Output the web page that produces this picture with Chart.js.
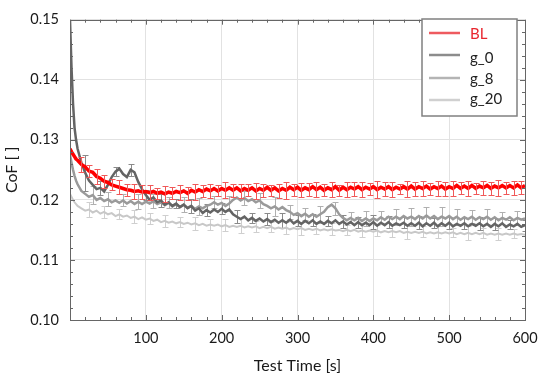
<!DOCTYPE html>
<html>
<head>
<meta charset="utf-8">
<script src="https://cdn.jsdelivr.net/npm/chart.js@4.4.0/dist/chart.umd.min.js"></script>
<style>
  html, body { margin: 0; padding: 0; background: #fff; }
  #wrap { width: 550px; height: 382px; }
</style>
</head>
<body>
<div id="wrap"><canvas id="cofChart"></canvas></div>
<script>
// test time [s]
var time = [0,2,4,6,8,10,15,20,25,30,
  35,40,45,50,55,60,65,70,75,80,
  85,90,95,100,105,110,115,120,125,130,
  135,140,145,150,155,160,165,170,175,180,
  185,190,195,200,205,210,215,220,225,230,
  235,240,245,250,255,260,265,270,275,280,
  285,290,295,300,305,310,315,320,325,330,
  335,340,345,350,355,360,365,370,375,380,
  385,390,395,400,405,410,415,420,425,430,
  435,440,445,450,455,460,465,470,475,480,
  485,490,495,500,505,510,515,520,525,530,
  535,540,545,550,555,560,565,570,575,580,
  585,590,595,600];

// CoF per sample
var cofBL = [0.1285,0.1280,0.1276,0.1272,0.1268,0.1266,0.1259,0.1255,0.1248,0.1246,
  0.1239,0.1236,0.1231,0.1229,0.1225,0.1223,0.1221,0.1219,0.1217,0.1216,
  0.1214,0.1215,0.1213,0.1214,0.1212,0.1214,0.1211,0.1213,0.1210,0.1213,
  0.1211,0.1214,0.1212,0.1215,0.1211,0.1216,0.1213,0.1217,0.1214,0.1218,
  0.1215,0.1219,0.1215,0.1219,0.1216,0.1220,0.1216,0.1220,0.1215,0.1219,
  0.1216,0.1220,0.1215,0.1219,0.1216,0.1221,0.1216,0.1220,0.1215,0.1219,
  0.1216,0.1221,0.1217,0.1221,0.1216,0.1220,0.1217,0.1222,0.1217,0.1221,
  0.1216,0.1220,0.1217,0.1222,0.1216,0.1221,0.1217,0.1221,0.1218,0.1222,
  0.1217,0.1221,0.1218,0.1222,0.1217,0.1221,0.1218,0.1222,0.1217,0.1221,
  0.1218,0.1222,0.1218,0.1223,0.1218,0.1222,0.1219,0.1223,0.1218,0.1222,
  0.1219,0.1223,0.1218,0.1222,0.1219,0.1224,0.1219,0.1223,0.1219,0.1224,
  0.1219,0.1223,0.1220,0.1224,0.1219,0.1223,0.1220,0.1224,0.1220,0.1224,
  0.1220,0.1225,0.1220,0.1224];

var cofG0 = [0.1500,0.1420,0.1360,0.1320,0.1300,0.1285,0.1262,0.1245,0.1232,0.1225,
  0.1218,0.1220,0.1214,0.1225,0.1238,0.1247,0.1252,0.1243,0.1238,0.1250,
  0.1246,0.1230,0.1218,0.1208,0.1200,0.1204,0.1196,0.1199,0.1192,0.1196,
  0.1190,0.1194,0.1188,0.1192,0.1186,0.1190,0.1182,0.1186,0.1178,0.1183,
  0.1179,0.1184,0.1180,0.1185,0.1180,0.1184,0.1176,0.1172,0.1168,0.1172,
  0.1166,0.1170,0.1165,0.1169,0.1164,0.1168,0.1163,0.1167,0.1162,0.1166,
  0.1162,0.1167,0.1161,0.1165,0.1160,0.1165,0.1161,0.1166,0.1160,0.1164,
  0.1160,0.1165,0.1161,0.1166,0.1160,0.1164,0.1159,0.1163,0.1158,0.1163,
  0.1158,0.1162,0.1158,0.1163,0.1157,0.1162,0.1158,0.1163,0.1157,0.1161,
  0.1158,0.1162,0.1157,0.1161,0.1157,0.1162,0.1156,0.1161,0.1157,0.1162,
  0.1156,0.1161,0.1157,0.1162,0.1156,0.1160,0.1157,0.1161,0.1156,0.1160,
  0.1157,0.1161,0.1156,0.1160,0.1155,0.1160,0.1156,0.1161,0.1155,0.1159,
  0.1156,0.1160,0.1155,0.1158];

var cofG8 = [0.1275,0.1262,0.1250,0.1240,0.1232,0.1226,0.1215,0.1210,0.1205,0.1208,
  0.1200,0.1203,0.1198,0.1201,0.1196,0.1199,0.1195,0.1199,0.1194,0.1198,
  0.1193,0.1197,0.1193,0.1197,0.1194,0.1198,0.1193,0.1196,0.1191,0.1195,
  0.1189,0.1193,0.1188,0.1192,0.1187,0.1190,0.1185,0.1189,0.1186,0.1190,
  0.1192,0.1196,0.1192,0.1195,0.1190,0.1194,0.1200,0.1204,0.1199,0.1203,
  0.1198,0.1201,0.1196,0.1199,0.1193,0.1190,0.1186,0.1189,0.1184,0.1188,
  0.1183,0.1180,0.1175,0.1178,0.1173,0.1177,0.1172,0.1176,0.1172,0.1176,
  0.1180,0.1188,0.1192,0.1186,0.1176,0.1170,0.1166,0.1170,0.1166,0.1170,
  0.1165,0.1169,0.1165,0.1169,0.1166,0.1171,0.1167,0.1172,0.1168,0.1172,
  0.1168,0.1173,0.1169,0.1172,0.1168,0.1173,0.1169,0.1174,0.1169,0.1173,
  0.1168,0.1172,0.1169,0.1173,0.1168,0.1172,0.1167,0.1171,0.1168,0.1172,
  0.1167,0.1171,0.1168,0.1172,0.1167,0.1171,0.1166,0.1170,0.1167,0.1171,
  0.1166,0.1170,0.1167,0.1169];

var cofG20 = [0.1210,0.1205,0.1200,0.1196,0.1193,0.1190,0.1186,0.1182,0.1184,0.1179,
  0.1182,0.1177,0.1180,0.1176,0.1178,0.1173,0.1176,0.1172,0.1174,0.1170,
  0.1172,0.1168,0.1171,0.1167,0.1169,0.1165,0.1167,0.1163,0.1165,0.1162,
  0.1164,0.1161,0.1163,0.1160,0.1162,0.1159,0.1161,0.1158,0.1160,0.1157,
  0.1159,0.1157,0.1159,0.1156,0.1158,0.1155,0.1157,0.1155,0.1157,0.1154,
  0.1156,0.1154,0.1156,0.1153,0.1155,0.1153,0.1155,0.1152,0.1154,0.1152,
  0.1154,0.1151,0.1153,0.1151,0.1153,0.1150,0.1152,0.1150,0.1152,0.1149,
  0.1151,0.1149,0.1151,0.1149,0.1150,0.1148,0.1150,0.1148,0.1150,0.1147,
  0.1149,0.1147,0.1149,0.1147,0.1149,0.1146,0.1148,0.1146,0.1148,0.1146,
  0.1148,0.1145,0.1147,0.1145,0.1147,0.1145,0.1147,0.1144,0.1146,0.1144,
  0.1146,0.1144,0.1146,0.1144,0.1146,0.1143,0.1145,0.1143,0.1145,0.1143,
  0.1145,0.1143,0.1145,0.1142,0.1144,0.1142,0.1144,0.1142,0.1144,0.1142,
  0.1144,0.1142,0.1143,0.1142];

// error bar half widths (every 10 s for BL from 15 s, every 20 s for the others)
var errBL = [0.0012,0.0010,0.0013,0.0011,0.0009,0.0012,0.0010,0.0013,0.0011,0.0012,
  0.0009,0.0013,0.0010,0.0012,0.0011,0.0014,0.0010,0.0012,0.0009,0.0013,
  0.0011,0.0012,0.0010,0.0013,0.0011,0.0009,0.0012,0.0014,0.0010,0.0012,
  0.0011,0.0013,0.0010,0.0012,0.0009,0.0013,0.0011,0.0012,0.0010,0.0014,
  0.0011,0.0012,0.0009,0.0013,0.0011,0.0012,0.0010,0.0013,0.0011,0.0012,
  0.0010,0.0013,0.0009,0.0012,0.0011,0.0013,0.0010,0.0012,0.0011];
var errG0 = [0.0030,0.0012,0.0008,0.0010,0.0009,0.0011,0.0008,0.0012,0.0010,0.0009,
  0.0011,0.0008,0.0010,0.0012,0.0009,0.0010,0.0008,0.0011,0.0009,0.0012,
  0.0010,0.0009,0.0011,0.0008,0.0010,0.0009,0.0011,0.0010,0.0008,0.0009];
var errG8 = [0.0015,0.0012,0.0010,0.0013,0.0011,0.0009,0.0012,0.0014,0.0010,0.0012,
  0.0011,0.0013,0.0016,0.0012,0.0010,0.0014,0.0011,0.0009,0.0012,0.0010,
  0.0013,0.0015,0.0014,0.0016,0.0013,0.0011,0.0012,0.0010,0.0011];
var errG20 = [0.0012,0.0010,0.0008,0.0011,0.0009,0.0010,0.0008,0.0011,0.0009,0.0010,
  0.0012,0.0009,0.0008,0.0010,0.0011,0.0009,0.0010,0.0008,0.0011,0.0009,
  0.0010,0.0012,0.0009,0.0010,0.0008,0.0011,0.0009,0.0010,0.0008];

var seriesNames = ["BL", "g_0", "g_8", "g_20"];

function pts(vals) {
  return time.map(function (t, i) { return { x: t, y: vals[i] }; });
}

var FONT = "Lato, 'Open Sans', sans-serif";

// error bars: grey ones under the lines, red ones on top
function drawErr(chart, onTop) {
  var ctx = chart.ctx, xs = chart.scales.x, ys = chart.scales.y, a = chart.chartArea;
  ctx.save();
  ctx.beginPath();
  ctx.rect(a.left, a.top, a.right - a.left, a.bottom - a.top);
  ctx.clip();
  for (var d = chart.data.datasets.length - 1; d >= 0; d--) {
    var ds = chart.data.datasets[d];
    if (!ds.err || !!ds.errOnTop !== onTop) continue;
    ctx.strokeStyle = ds.errColor;
    ctx.lineWidth = 1;
    ds.err.forEach(function (e, k) {
      var p = ds.data[ds.errStart + k * ds.errStep];
      if (!p) return;
      var px = Math.round(xs.getPixelForValue(p.x)) + 0.5;
      var top = Math.round(ys.getPixelForValue(p.y + e)) + 0.5;
      var bot = Math.round(ys.getPixelForValue(p.y - e)) + 0.5;
      ctx.beginPath();
      ctx.moveTo(px, top); ctx.lineTo(px, bot);
      ctx.moveTo(px - 3, top); ctx.lineTo(px + 3, top);
      ctx.moveTo(px - 3, bot); ctx.lineTo(px + 3, bot);
      ctx.stroke();
    });
  }
  ctx.restore();
}

var errBars = {
  id: 'errBars',
  beforeDatasetsDraw: function (chart) { drawErr(chart, false); },
  afterDatasetsDraw: function (chart) { drawErr(chart, true); }
};

// box round the plot with inward major/minor ticks on all sides
var frame = {
  id: 'frame',
  afterDatasetsDraw: function (chart) {
    var ctx = chart.ctx, xs = chart.scales.x, ys = chart.scales.y, a = chart.chartArea;
    ctx.save();
    ctx.strokeStyle = '#666';
    ctx.lineWidth = 1;
    ctx.strokeRect(Math.round(a.left) + 0.5, Math.round(a.top) + 0.5,
      Math.round(a.right - a.left), Math.round(a.bottom - a.top));
    ctx.beginPath();
    for (var t = 0; t <= 600; t += 20) {
      var px = Math.round(xs.getPixelForValue(t)) + 0.5;
      var len = (t % 100 === 0) ? 5 : 3;
      ctx.moveTo(px, a.bottom); ctx.lineTo(px, a.bottom - len);
      ctx.moveTo(px, a.top); ctx.lineTo(px, a.top + len);
    }
    for (var k = 0; k <= 25; k++) {
      var py = Math.round(ys.getPixelForValue(0.10 + k * 0.002)) + 0.5;
      var l2 = (k % 5 === 0) ? 5 : 3;
      ctx.moveTo(a.left, py); ctx.lineTo(a.left + l2, py);
      ctx.moveTo(a.right, py); ctx.lineTo(a.right - l2, py);
    }
    ctx.stroke();
    ctx.restore();
  }
};

// legend box in the upper right corner
var legendBox = {
  id: 'legendBox',
  afterDraw: function (chart) {
    var ctx = chart.ctx;
    var rows = [
      { line: 33, text: 39, color: '#e8262e' },
      { line: 55, text: 63, color: '#222' },
      { line: 78, text: 84, color: '#222' },
      { line: 100, text: 104, color: '#222' }
    ];
    ctx.save();
    ctx.fillStyle = '#fff';
    ctx.fillRect(422, 19, 95, 97);
    ctx.strokeStyle = '#808080';
    ctx.lineWidth = 1.5;
    ctx.strokeRect(422, 19, 95, 97);
    ctx.font = '15px ' + FONT;
    ctx.textBaseline = 'alphabetic';
    chart.data.datasets.forEach(function (ds, i) {
      var r = rows[i];
      ctx.strokeStyle = ds.legendColor;
      ctx.lineWidth = 2.5;
      ctx.beginPath();
      ctx.moveTo(429, r.line); ctx.lineTo(460, r.line);
      ctx.stroke();
      ctx.fillStyle = r.color;
      ctx.fillText(ds.label, 470, r.text);
    });
    ctx.restore();
  }
};

var ctxC = document.getElementById('cofChart').getContext('2d');
var cofChart = new Chart(ctxC, {
  type: 'line',
  data: {
    datasets: [{
        label: seriesNames[0],
        data: pts(cofBL),
        borderColor: '#ff0000',
        legendColor: '#ee5a5f',
        borderWidth: 3.5,
        err: errBL, errStart: 6, errStep: 2, errColor: '#f05858', errOnTop: true
      },
      {
        label: seriesNames[1],
        data: pts(cofG0),
        borderColor: '#646464',
        legendColor: '#8c8c8c',
        borderWidth: 2.5,
        err: errG0, errStart: 7, errStep: 4, errColor: '#8a8a8a'
      },
      {
        label: seriesNames[2],
        data: pts(cofG8),
        borderColor: '#9a9a9a',
        legendColor: '#b4b4b4',
        borderWidth: 2.5,
        err: errG8, errStart: 9, errStep: 4, errColor: '#b0b0b0'
      },
      {
        label: seriesNames[3],
        data: pts(cofG20),
        borderColor: '#c8c8c8',
        legendColor: '#d0d0d0',
        borderWidth: 2,
        err: errG20, errStart: 8, errStep: 4, errColor: '#cfcfcf'
      }
    ]
  },
  options: {
    responsive: true,
    maintainAspectRatio: false,
    animation: false,
    layout: { padding: { top: 11, right: 25, bottom: 0, left: 0 } },
    elements: { point: { radius: 0 }, line: { tension: 0 } },
    plugins: { legend: { display: false }, tooltip: { enabled: false } },
    scales: {
      x: {
        type: 'linear',
        min: 0, max: 600,
        afterFit: function (s) { s.height = 62; },
        grid: { color: '#e2e2e2', drawTicks: false },
        border: { display: false },
        ticks: {
          stepSize: 100, padding: 10, color: '#1a1a1a',
          font: { family: FONT, size: 14.5 },
          callback: function (v) { return v === 0 ? '' : v; }
        },
        title: {
          display: true, text: 'Test Time [s]', color: '#1a1a1a',
          font: { family: FONT, size: 16 }, padding: { top: 0, bottom: 7 }
        }
      },
      y: {
        min: 0.10, max: 0.15,
        afterFit: function (s) { s.width = 70; },
        grid: { color: '#e2e2e2', drawTicks: false },
        border: { display: false },
        ticks: {
          stepSize: 0.01, padding: 11, color: '#1a1a1a',
          font: { family: FONT, size: 14.5 },
          callback: function (v) { return v.toFixed(2); }
        },
        title: {
          display: true, text: 'CoF [ ]', color: '#1a1a1a',
          font: { family: FONT, size: 16 }, padding: { top: 2, bottom: 0 }
        }
      }
    }
  },
  plugins: [errBars, frame, legendBox]
});
</script>
</body>
</html>
